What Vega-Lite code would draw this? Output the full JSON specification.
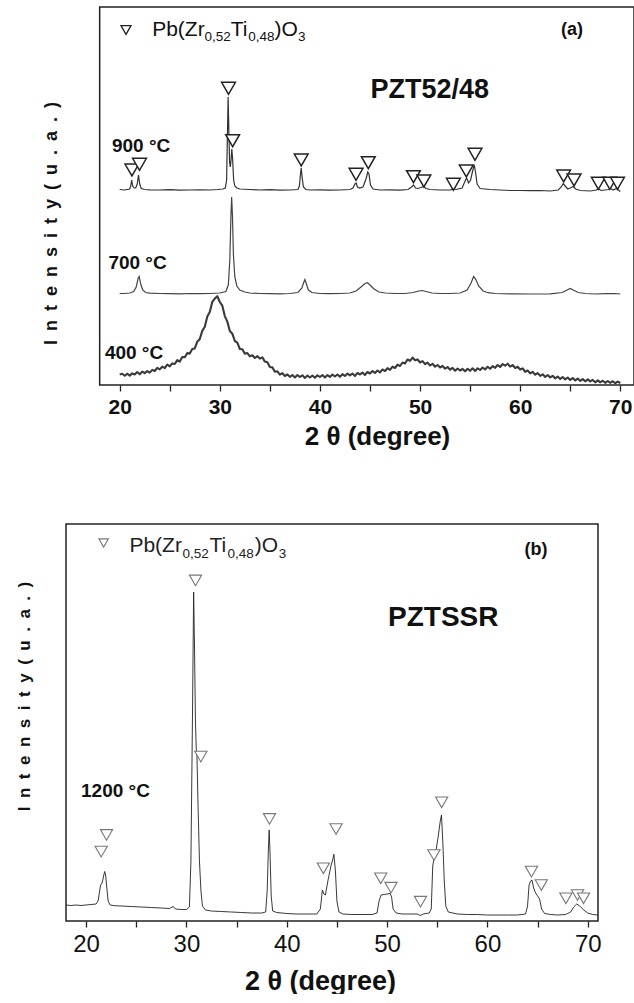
{
"$schema": "https://vega.github.io/schema/vega-lite/v6.json",
"background": "white",
"padding": {"left": 15, "top": 6, "right": 0, "bottom": 0},
"spacing": 74,
"config": {"font": "Liberation Sans", "view": {"stroke": null}},
"datasets": {
"a900": [{"x":20.0,"h":195.5},{"x":20.5,"h":195},{"x":21.0,"h":196},{"x":21.1,"h":199},{"x":21.2,"h":205},{"x":21.3,"h":199},{"x":21.45,"h":197},{"x":21.6,"h":197},{"x":21.75,"h":201},{"x":21.88,"h":210},{"x":22.0,"h":201},{"x":22.15,"h":196.5},{"x":22.5,"h":195.5},{"x":23,"h":195.2},{"x":24,"h":195},{"x":25,"h":195.3},{"x":26,"h":194.8},{"x":27,"h":195},{"x":28,"h":195.2},{"x":29,"h":195},{"x":29.8,"h":195.5},{"x":30.3,"h":196},{"x":30.55,"h":197},{"x":30.68,"h":205},{"x":30.76,"h":250},{"x":30.83,"h":288},{"x":30.9,"h":255},{"x":30.98,"h":222},{"x":31.05,"h":218},{"x":31.13,"h":226},{"x":31.2,"h":236},{"x":31.28,"h":226},{"x":31.38,"h":205},{"x":31.5,"h":199},{"x":31.7,"h":197},{"x":32,"h":196},{"x":33,"h":195.5},{"x":34,"h":195},{"x":35,"h":195.3},{"x":36,"h":194.8},{"x":37,"h":195},{"x":37.8,"h":195.5},{"x":37.95,"h":199},{"x":38.05,"h":210},{"x":38.13,"h":217},{"x":38.22,"h":208},{"x":38.35,"h":198},{"x":38.6,"h":195.5},{"x":39,"h":195},{"x":40,"h":195.2},{"x":41,"h":194.8},{"x":42,"h":195},{"x":43,"h":195.5},{"x":43.3,"h":197},{"x":43.5,"h":201},{"x":43.62,"h":202},{"x":43.75,"h":198},{"x":43.95,"h":197},{"x":44.3,"h":198},{"x":44.6,"h":206},{"x":44.78,"h":213},{"x":44.9,"h":211},{"x":45.05,"h":200},{"x":45.3,"h":196},{"x":46,"h":195},{"x":47,"h":195.2},{"x":48,"h":194.8},{"x":48.8,"h":195.5},{"x":49.15,"h":198},{"x":49.35,"h":200},{"x":49.55,"h":197},{"x":49.8,"h":196.5},{"x":50.1,"h":197.5},{"x":50.35,"h":198.5},{"x":50.6,"h":196.5},{"x":51,"h":195.5},{"x":52,"h":195},{"x":53,"h":195},{"x":53.3,"h":196},{"x":53.6,"h":195.5},{"x":54.2,"h":197},{"x":54.5,"h":204},{"x":54.65,"h":207},{"x":54.85,"h":202},{"x":55.05,"h":205},{"x":55.25,"h":214},{"x":55.42,"h":220},{"x":55.55,"h":212},{"x":55.7,"h":201},{"x":56,"h":196.5},{"x":57,"h":195.5},{"x":58,"h":195},{"x":59,"h":194.5},{"x":60,"h":194.5},{"x":61,"h":194.3},{"x":62,"h":194.5},{"x":63,"h":194},{"x":63.8,"h":195},{"x":64.1,"h":198},{"x":64.3,"h":201.5},{"x":64.5,"h":199},{"x":64.75,"h":196},{"x":65.1,"h":197.5},{"x":65.3,"h":198.5},{"x":65.55,"h":196},{"x":66,"h":194.5},{"x":67,"h":194},{"x":67.6,"h":195},{"x":67.8,"h":196},{"x":68.1,"h":194.5},{"x":68.8,"h":195.5},{"x":69.0,"h":196.5},{"x":69.3,"h":195},{"x":69.6,"h":196.5},{"x":69.75,"h":195.5},{"x":70.0,"h":193.5}],
"a700": [{"x":20.0,"h":91.5},{"x":20.5,"h":91.5},{"x":21.0,"h":92},{"x":21.4,"h":93.5},{"x":21.65,"h":98},{"x":21.85,"h":107},{"x":21.95,"h":108.5},{"x":22.1,"h":101},{"x":22.3,"h":95},{"x":22.6,"h":92.5},{"x":23,"h":91.8},{"x":24,"h":91.5},{"x":25,"h":91.3},{"x":26,"h":91.2},{"x":27,"h":91.5},{"x":28,"h":91.3},{"x":29,"h":91.5},{"x":30,"h":92},{"x":30.6,"h":93.5},{"x":30.85,"h":100},{"x":31.0,"h":125},{"x":31.1,"h":165},{"x":31.18,"h":188},{"x":31.26,"h":170},{"x":31.36,"h":130},{"x":31.5,"h":108},{"x":31.7,"h":99},{"x":32,"h":95},{"x":32.5,"h":93},{"x":33,"h":92},{"x":34,"h":91.5},{"x":35,"h":91.3},{"x":36,"h":91.2},{"x":37,"h":91.5},{"x":37.8,"h":92.5},{"x":38.2,"h":97},{"x":38.4,"h":103},{"x":38.5,"h":105.5},{"x":38.65,"h":101},{"x":38.85,"h":95},{"x":39.2,"h":92.5},{"x":40,"h":91.5},{"x":41,"h":91.3},{"x":42,"h":91.5},{"x":43,"h":92},{"x":43.6,"h":94},{"x":44.1,"h":98},{"x":44.5,"h":101.5},{"x":44.75,"h":102.3},{"x":45.0,"h":100},{"x":45.4,"h":96},{"x":45.9,"h":93},{"x":46.5,"h":92},{"x":47.5,"h":91.5},{"x":48.5,"h":91.5},{"x":49.3,"h":92.5},{"x":49.9,"h":94},{"x":50.2,"h":94.5},{"x":50.6,"h":93.5},{"x":51.2,"h":92},{"x":52,"h":91.5},{"x":53,"h":91.5},{"x":54,"h":92},{"x":54.7,"h":95},{"x":55.1,"h":102},{"x":55.35,"h":108.5},{"x":55.55,"h":106},{"x":55.85,"h":99},{"x":56.3,"h":94},{"x":56.8,"h":92.3},{"x":57.5,"h":91.5},{"x":59,"h":91.2},{"x":61,"h":91},{"x":63,"h":91.2},{"x":64.2,"h":92.5},{"x":64.7,"h":95},{"x":65.0,"h":96.5},{"x":65.3,"h":95},{"x":65.8,"h":92.5},{"x":66.5,"h":91.5},{"x":67.5,"h":91},{"x":68.5,"h":91.3},{"x":69.5,"h":91.5},{"x":70.0,"h":91}],
"a400": [{"x":20.0,"h":10.5},{"x":20.25,"h":11.2},{"x":20.5,"h":9.2},{"x":20.75,"h":11.3},{"x":21.0,"h":9.4},{"x":21.25,"h":11.6},{"x":21.5,"h":10.6},{"x":21.75,"h":13.0},{"x":22.0,"h":10.7},{"x":22.25,"h":13.4},{"x":22.5,"h":11.9},{"x":22.75,"h":13.9},{"x":23.0,"h":12.4},{"x":23.25,"h":15.1},{"x":23.5,"h":14.0},{"x":23.75,"h":17.2},{"x":24.0,"h":15.6},{"x":24.25,"h":18.3},{"x":24.5,"h":16.9},{"x":24.75,"h":20.5},{"x":25.0,"h":18.7},{"x":25.25,"h":21.6},{"x":25.5,"h":21.0},{"x":25.75,"h":24.9},{"x":26.0,"h":23.4},{"x":26.25,"h":27.9},{"x":26.5,"h":27.7},{"x":26.75,"h":31.9},{"x":27.0,"h":31.4},{"x":27.25,"h":36.0},{"x":27.5,"h":36.6},{"x":27.75,"h":43.3},{"x":28.0,"h":46.0},{"x":28.25,"h":54.1},{"x":28.5,"h":58.2},{"x":28.75,"h":68.4},{"x":29.0,"h":73.0},{"x":29.25,"h":83.2},{"x":29.5,"h":86.4},{"x":29.75,"h":88.8},{"x":30.0,"h":83.0},{"x":30.25,"h":79.3},{"x":30.5,"h":68.9},{"x":30.75,"h":63.4},{"x":31.0,"h":54.0},{"x":31.25,"h":51.3},{"x":31.5,"h":44.0},{"x":31.75,"h":42.4},{"x":32.0,"h":36.0},{"x":32.25,"h":35.7},{"x":32.5,"h":31.2},{"x":32.75,"h":32.0},{"x":33.0,"h":28.6},{"x":33.25,"h":29.7},{"x":33.5,"h":27.0},{"x":33.75,"h":28.8},{"x":34.0,"h":26.4},{"x":34.25,"h":27.6},{"x":34.5,"h":23.4},{"x":34.75,"h":22.7},{"x":35.0,"h":18.0},{"x":35.25,"h":17.6},{"x":35.5,"h":13.3},{"x":35.75,"h":13.7},{"x":36.0,"h":10.4},{"x":36.25,"h":11.8},{"x":36.5,"h":9.0},{"x":36.75,"h":10.6},{"x":37.0,"h":8.2},{"x":37.25,"h":10.0},{"x":37.5,"h":7.6},{"x":37.75,"h":9.9},{"x":38.0,"h":8.0},{"x":38.25,"h":9.7},{"x":38.5,"h":7.1},{"x":38.75,"h":9.4},{"x":39.0,"h":7.5},{"x":39.25,"h":9.5},{"x":39.5,"h":7.2},{"x":39.75,"h":9.7},{"x":40.0,"h":8.0},{"x":40.25,"h":9.9},{"x":40.5,"h":7.6},{"x":40.75,"h":9.9},{"x":41.0,"h":8.1},{"x":41.25,"h":10.4},{"x":41.5,"h":8.5},{"x":41.75,"h":10.5},{"x":42.0,"h":8.2},{"x":42.25,"h":10.8},{"x":42.5,"h":9.0},{"x":42.75,"h":11.4},{"x":43.0,"h":9.6},{"x":43.25,"h":11.5},{"x":43.5,"h":9.1},{"x":43.75,"h":12.0},{"x":44.0,"h":10.5},{"x":44.25,"h":12.5},{"x":44.5,"h":10.1},{"x":44.75,"h":13.0},{"x":45.0,"h":11.5},{"x":45.25,"h":14.0},{"x":45.5,"h":12.1},{"x":45.75,"h":14.5},{"x":46.0,"h":12.6},{"x":46.25,"h":15.5},{"x":46.5,"h":14.0},{"x":46.75,"h":16.8},{"x":47.0,"h":15.1},{"x":47.25,"h":18.3},{"x":47.5,"h":17.0},{"x":47.75,"h":20.3},{"x":48.0,"h":19.0},{"x":48.25,"h":22.5},{"x":48.5,"h":21.6},{"x":48.75,"h":25.5},{"x":49.0,"h":24.2},{"x":49.25,"h":27.4},{"x":49.5,"h":24.8},{"x":49.75,"h":25.6},{"x":50.0,"h":22.5},{"x":50.25,"h":23.9},{"x":50.5,"h":20.8},{"x":50.75,"h":22.4},{"x":51.0,"h":19.5},{"x":51.25,"h":21.2},{"x":51.5,"h":18.3},{"x":51.75,"h":20.0},{"x":52.0,"h":17.5},{"x":52.25,"h":19.1},{"x":52.5,"h":16.3},{"x":52.75,"h":17.9},{"x":53.0,"h":15.3},{"x":53.25,"h":17.1},{"x":53.5,"h":14.3},{"x":53.75,"h":16.5},{"x":54.0,"h":14.5},{"x":54.25,"h":16.1},{"x":54.5,"h":13.7},{"x":54.75,"h":16.2},{"x":55.0,"h":14.2},{"x":55.25,"h":16.7},{"x":55.5,"h":14.1},{"x":55.75,"h":16.7},{"x":56.0,"h":15.0},{"x":56.25,"h":17.5},{"x":56.5,"h":15.6},{"x":56.75,"h":18.2},{"x":57.0,"h":16.2},{"x":57.25,"h":18.9},{"x":57.5,"h":17.2},{"x":57.75,"h":20.0},{"x":58.0,"h":18.0},{"x":58.25,"h":21.0},{"x":58.5,"h":19.3},{"x":58.75,"h":21.3},{"x":59.0,"h":18.3},{"x":59.25,"h":20.0},{"x":59.5,"h":16.9},{"x":59.75,"h":18.3},{"x":60.0,"h":15.5},{"x":60.25,"h":16.6},{"x":60.5,"h":13.2},{"x":60.75,"h":14.5},{"x":61.0,"h":11.6},{"x":61.25,"h":13.1},{"x":61.5,"h":10.3},{"x":61.75,"h":11.9},{"x":62.0,"h":9.1},{"x":62.25,"h":10.7},{"x":62.5,"h":8.0},{"x":62.75,"h":10.0},{"x":63.0,"h":7.6},{"x":63.25,"h":9.2},{"x":63.5,"h":6.6},{"x":63.75,"h":8.5},{"x":64.0,"h":6.1},{"x":64.25,"h":8.0},{"x":64.5,"h":5.6},{"x":64.75,"h":7.5},{"x":65.0,"h":5.1},{"x":65.25,"h":7.0},{"x":65.5,"h":4.6},{"x":65.75,"h":6.4},{"x":66.0,"h":4.1},{"x":66.25,"h":5.9},{"x":66.5,"h":3.7},{"x":66.75,"h":5.6},{"x":67.0,"h":3.6},{"x":67.25,"h":5.1},{"x":67.5,"h":2.7},{"x":67.75,"h":4.6},{"x":68.0,"h":2.7},{"x":68.25,"h":4.3},{"x":68.5,"h":2.2},{"x":68.75,"h":4.0},{"x":69.0,"h":2.2},{"x":69.25,"h":3.8},{"x":69.5,"h":1.8},{"x":69.75,"h":3.4},{"x":70.0,"h":2.0}],
"am": [{"x":21.22,"h":215},{"x":21.98,"h":220.7},{"x":30.87,"h":296.7},{"x":31.28,"h":244.3},{"x":38.13,"h":225},{"x":43.61,"h":210.7},{"x":44.83,"h":222.3},{"x":49.34,"h":208.3},{"x":50.38,"h":204},{"x":53.33,"h":200.7},{"x":54.62,"h":214},{"x":55.49,"h":230.7},{"x":64.34,"h":209},{"x":65.38,"h":205},{"x":67.81,"h":201.7},{"x":68.96,"h":201.7},{"x":69.72,"h":201.7}],
"b": [{"x":18.0,"h":16},{"x":18.5,"h":15.5},{"x":19.0,"h":16},{"x":19.5,"h":15.5},{"x":20.0,"h":16},{"x":20.5,"h":16.5},{"x":21.0,"h":17},{"x":21.2,"h":20},{"x":21.35,"h":30},{"x":21.45,"h":36},{"x":21.6,"h":38},{"x":21.75,"h":45},{"x":21.85,"h":49.5},{"x":21.95,"h":46},{"x":22.05,"h":35},{"x":22.2,"h":20},{"x":22.4,"h":16},{"x":22.8,"h":15.3},{"x":23.5,"h":15},{"x":24.5,"h":14.5},{"x":25.5,"h":14},{"x":26.5,"h":13.5},{"x":27.5,"h":13},{"x":28.3,"h":12.5},{"x":28.7,"h":14.5},{"x":28.9,"h":12},{"x":29.5,"h":11.5},{"x":30.0,"h":11.5},{"x":30.3,"h":14},{"x":30.45,"h":60},{"x":30.6,"h":200},{"x":30.72,"h":329},{"x":30.8,"h":280},{"x":30.9,"h":200},{"x":30.98,"h":172},{"x":31.05,"h":165},{"x":31.15,"h":120},{"x":31.3,"h":60},{"x":31.45,"h":30},{"x":31.6,"h":15},{"x":31.9,"h":11},{"x":32.5,"h":10},{"x":33.5,"h":9.5},{"x":34.5,"h":9},{"x":35.5,"h":8.5},{"x":36.5,"h":8},{"x":37.5,"h":8},{"x":37.9,"h":9},{"x":38.05,"h":30},{"x":38.18,"h":75},{"x":38.25,"h":91},{"x":38.33,"h":70},{"x":38.45,"h":25},{"x":38.6,"h":10},{"x":39,"h":8.5},{"x":40,"h":7.5},{"x":41,"h":7},{"x":42,"h":7},{"x":43,"h":7},{"x":43.35,"h":12},{"x":43.55,"h":31},{"x":43.7,"h":27},{"x":43.85,"h":26},{"x":44.1,"h":40},{"x":44.4,"h":55},{"x":44.55,"h":60},{"x":44.7,"h":66.7},{"x":44.85,"h":50},{"x":45.0,"h":20},{"x":45.2,"h":9},{"x":45.6,"h":7},{"x":46.5,"h":6.5},{"x":47.5,"h":6.5},{"x":48.5,"h":6.5},{"x":49.0,"h":8},{"x":49.2,"h":20},{"x":49.4,"h":26},{"x":49.7,"h":26.5},{"x":50.0,"h":27},{"x":50.3,"h":27.7},{"x":50.45,"h":24},{"x":50.6,"h":12},{"x":50.9,"h":8},{"x":51.5,"h":7},{"x":52.5,"h":7},{"x":53.0,"h":7},{"x":53.3,"h":5.5},{"x":53.6,"h":7},{"x":54.2,"h":8},{"x":54.4,"h":12},{"x":54.55,"h":55},{"x":54.7,"h":64},{"x":54.9,"h":72},{"x":55.1,"h":85},{"x":55.3,"h":100},{"x":55.42,"h":106},{"x":55.55,"h":80},{"x":55.7,"h":40},{"x":55.85,"h":15},{"x":56.1,"h":9},{"x":57,"h":7},{"x":58,"h":6.5},{"x":59,"h":6.5},{"x":60,"h":6},{"x":61,"h":6},{"x":62,"h":6},{"x":63,"h":6},{"x":63.8,"h":7},{"x":64.0,"h":15},{"x":64.15,"h":36},{"x":64.3,"h":40},{"x":64.45,"h":41},{"x":64.6,"h":33},{"x":64.8,"h":28},{"x":65.0,"h":25},{"x":65.2,"h":22},{"x":65.4,"h":12},{"x":65.7,"h":7.5},{"x":66.3,"h":6.5},{"x":67,"h":6},{"x":67.8,"h":6.5},{"x":68.3,"h":9},{"x":68.6,"h":14},{"x":68.9,"h":17},{"x":69.2,"h":15},{"x":69.6,"h":11},{"x":70.0,"h":8},{"x":70.5,"h":6.5},{"x":71.0,"h":6}],
"bm": [{"x":21.51,"h":69.4},{"x":22.04,"h":86.1},{"x":30.91,"h":340.6},{"x":31.44,"h":164.4},{"x":38.28,"h":102.1},{"x":43.65,"h":52.7},{"x":44.91,"h":92.0},{"x":49.37,"h":42.7},{"x":50.39,"h":33.3},{"x":53.33,"h":19.3},{"x":54.67,"h":66.0},{"x":55.44,"h":118.7},{"x":64.39,"h":49.4},{"x":65.37,"h":36.0},{"x":67.82,"h":22.7},{"x":68.98,"h":26.0},{"x":69.58,"h":22.7}]
},
"vconcat": [
{
"width": 568, "height": 378,
"layer": [
{"data": {"values": [{}]},
 "mark": {"type": "rect", "filled": false, "stroke": "#222", "strokeWidth": 1.5},
 "encoding": {
  "x": {"datum": 18, "type": "quantitative", "scale": {"domain": [14.637, 71.37], "nice": false, "zero": false},
        "axis": {"values": [20,25,30,35,40,45,50,55,60,65,70], "labelExpr": "datum.value % 10 === 0 ? datum.label : ''", "domain": false, "grid": false, "tickSize": 6, "tickWidth": 1.3, "tickColor": "#222", "labelFontSize": 21, "labelFontWeight": "bold", "labelColor": "#111", "labelPadding": 5, "title": "2 θ (degree)", "titleFontSize": 26, "titleFontWeight": "bold", "titleColor": "#111", "titlePadding": 6, "titleX": 311}},
  "x2": {"datum": 71.37},
  "y": {"datum": 0, "type": "quantitative", "scale": {"domain": [0, 378], "nice": false, "zero": false},
        "axis": {"title": "I\u2002n\u2002t\u2002e\u2002n\u2002s\u2002i\u2002t\u2002y\u2002(\u2002u\u2002.\u2002a\u2002.\u2002)", "labels": false, "ticks": false, "domain": false, "grid": false, "titleFontSize": 18, "titleFontWeight": "bold", "titleColor": "#111", "titlePadding": 6, "titleY": 216}},
  "y2": {"datum": 378}
 }},
{"data": {"name": "a900"}, "mark": {"type": "line", "stroke": "#333", "strokeWidth": 1.2}, "encoding": {"x": {"field": "x", "type": "quantitative"}, "y": {"field": "h", "type": "quantitative"}}},
{"data": {"name": "a700"}, "mark": {"type": "line", "stroke": "#444", "strokeWidth": 1.2}, "encoding": {"x": {"field": "x", "type": "quantitative"}, "y": {"field": "h", "type": "quantitative"}}},
{"data": {"name": "a400"}, "mark": {"type": "line", "stroke": "#3a3a3a", "strokeWidth": 2.1, "strokeJoin": "round"}, "encoding": {"x": {"field": "x", "type": "quantitative"}, "y": {"field": "h", "type": "quantitative"}}},
{"data": {"name": "am"}, "mark": {"type": "point", "shape": "triangle-down", "filled": true, "fill": "white", "stroke": "#222", "strokeWidth": 1.5, "size": 190, "opacity": 1}, "encoding": {"x": {"field": "x", "type": "quantitative"}, "y": {"field": "h", "type": "quantitative"}}},
{"data": {"values": [{}]}, "mark": {"type": "point", "shape": "triangle-down", "filled": true, "fill": "white", "stroke": "#222", "strokeWidth": 1.3, "size": 100, "opacity": 1}, "encoding": {"x": {"datum": 20.63}, "y": {"datum": 355}}},
{"data": {"values": [{}]}, "mark": {"type": "text", "text": "Pb(Zr", "align": "left", "baseline": "alphabetic", "fontSize": 21, "color": "#111"}, "encoding": {"x": {"datum": 23.24}, "y": {"datum": 349}}},
{"data": {"values": [{}]}, "mark": {"type": "text", "text": "0,52", "align": "left", "baseline": "alphabetic", "fontSize": 13.5, "color": "#111"}, "encoding": {"x": {"datum": 28.47}, "y": {"datum": 344}}},
{"data": {"values": [{}]}, "mark": {"type": "text", "text": "Ti", "align": "left", "baseline": "alphabetic", "fontSize": 21, "color": "#111"}, "encoding": {"x": {"datum": 31.10}, "y": {"datum": 349}}},
{"data": {"values": [{}]}, "mark": {"type": "text", "text": "0,48", "align": "left", "baseline": "alphabetic", "fontSize": 13.5, "color": "#111"}, "encoding": {"x": {"datum": 32.84}, "y": {"datum": 344}}},
{"data": {"values": [{}]}, "mark": {"type": "text", "text": ")O", "align": "left", "baseline": "alphabetic", "fontSize": 21, "color": "#111"}, "encoding": {"x": {"datum": 35.47}, "y": {"datum": 349}}},
{"data": {"values": [{}]}, "mark": {"type": "text", "text": "3", "align": "left", "baseline": "alphabetic", "fontSize": 13.5, "color": "#111"}, "encoding": {"x": {"datum": 37.80}, "y": {"datum": 344}}},
{"data": {"values": [{}]}, "mark": {"type": "text", "text": "(a)", "align": "center", "baseline": "middle", "fontSize": 18, "fontWeight": "bold", "color": "#111"}, "encoding": {"x": {"datum": 65.18}, "y": {"datum": 355}}},
{"data": {"values": [{}]}, "mark": {"type": "text", "text": "PZT52/48", "align": "center", "baseline": "alphabetic", "fontSize": 27, "fontWeight": "bold", "color": "#111"}, "encoding": {"x": {"datum": 50.98}, "y": {"datum": 286.7}}},
{"data": {"values": [{}]}, "mark": {"type": "text", "text": "900 °C", "align": "left", "baseline": "alphabetic", "fontSize": 19, "fontWeight": "bold", "color": "#111"}, "encoding": {"x": {"datum": 19.23}, "y": {"datum": 233.3}}},
{"data": {"values": [{}]}, "mark": {"type": "text", "text": "700 °C", "align": "left", "baseline": "alphabetic", "fontSize": 19, "fontWeight": "bold", "color": "#111"}, "encoding": {"x": {"datum": 18.87}, "y": {"datum": 115.7}}},
{"data": {"values": [{}]}, "mark": {"type": "text", "text": "400 °C", "align": "left", "baseline": "alphabetic", "fontSize": 19, "fontWeight": "bold", "color": "#111"}, "encoding": {"x": {"datum": 18.52}, "y": {"datum": 25.7}}}
]
},
{
"width": 532, "height": 397,
"layer": [
{"data": {"values": [{}]},
 "mark": {"type": "rect", "filled": false, "stroke": "#222", "strokeWidth": 1.5},
 "encoding": {
  "x": {"datum": 18, "type": "quantitative", "scale": {"domain": [18, 71.02], "nice": false, "zero": false},
        "axis": {"values": [20,25,30,35,40,45,50,55,60,65,70], "labelExpr": "datum.value % 10 === 0 ? datum.label : ''", "domain": false, "grid": false, "tickSize": 6, "tickWidth": 1.3, "tickColor": "#222", "labelFontSize": 24, "labelColor": "#111", "labelPadding": 5, "title": "2 θ (degree)", "titleFontSize": 27, "titleFontWeight": "bold", "titleColor": "#111", "titlePadding": 12, "titleX": 254}},
  "x2": {"datum": 71.02},
  "y": {"datum": 0, "type": "quantitative", "scale": {"domain": [0, 397], "nice": false, "zero": false},
        "axis": {"title": "I\u2002n\u2002t\u2002e\u2002n\u2002s\u2002i\u2002t\u2002y\u2002(\u2002u\u2002.\u2002a\u2002.\u2002)", "labels": false, "ticks": false, "domain": false, "grid": false, "titleFontSize": 17, "titleFontWeight": "bold", "titleColor": "#111", "titlePadding": 33, "titleY": 172}},
  "y2": {"datum": 397}
 }},
{"data": {"name": "b"}, "mark": {"type": "line", "stroke": "#222", "strokeWidth": 0.9}, "encoding": {"x": {"field": "x", "type": "quantitative"}, "y": {"field": "h", "type": "quantitative"}}},
{"data": {"name": "bm"}, "mark": {"type": "point", "shape": "triangle-down", "filled": true, "fill": "white", "stroke": "#777", "strokeWidth": 1.1, "size": 150, "opacity": 1}, "encoding": {"x": {"field": "x", "type": "quantitative"}, "y": {"field": "h", "type": "quantitative"}}},
{"data": {"values": [{}]}, "mark": {"type": "point", "shape": "triangle-down", "filled": true, "fill": "white", "stroke": "#777", "strokeWidth": 1.1, "size": 90, "opacity": 1}, "encoding": {"x": {"datum": 21.75}, "y": {"datum": 378}}},
{"data": {"values": [{}]}, "mark": {"type": "text", "text": "Pb(Zr", "align": "left", "baseline": "alphabetic", "fontSize": 21, "color": "#222"}, "encoding": {"x": {"datum": 24.32}, "y": {"datum": 369}}},
{"data": {"values": [{}]}, "mark": {"type": "text", "text": "0,52", "align": "left", "baseline": "alphabetic", "fontSize": 13.5, "color": "#222"}, "encoding": {"x": {"datum": 29.6}, "y": {"datum": 363}}},
{"data": {"values": [{}]}, "mark": {"type": "text", "text": "Ti", "align": "left", "baseline": "alphabetic", "fontSize": 21, "color": "#222"}, "encoding": {"x": {"datum": 32.3}, "y": {"datum": 369}}},
{"data": {"values": [{}]}, "mark": {"type": "text", "text": "0,48", "align": "left", "baseline": "alphabetic", "fontSize": 13.5, "color": "#222"}, "encoding": {"x": {"datum": 34.1}, "y": {"datum": 363}}},
{"data": {"values": [{}]}, "mark": {"type": "text", "text": ")O", "align": "left", "baseline": "alphabetic", "fontSize": 21, "color": "#222"}, "encoding": {"x": {"datum": 36.8}, "y": {"datum": 369}}},
{"data": {"values": [{}]}, "mark": {"type": "text", "text": "3", "align": "left", "baseline": "alphabetic", "fontSize": 13.5, "color": "#222"}, "encoding": {"x": {"datum": 39.2}, "y": {"datum": 363}}},
{"data": {"values": [{}]}, "mark": {"type": "text", "text": "(b)", "align": "center", "baseline": "middle", "fontSize": 18, "fontWeight": "bold", "color": "#111"}, "encoding": {"x": {"datum": 64.84}, "y": {"datum": 371.3}}},
{"data": {"values": [{}]}, "mark": {"type": "text", "text": "PZTSSR", "align": "center", "baseline": "alphabetic", "fontSize": 28, "fontWeight": "bold", "color": "#111"}, "encoding": {"x": {"datum": 55.6}, "y": {"datum": 295.5}}},
{"data": {"values": [{}]}, "mark": {"type": "text", "text": "1200 °C", "align": "left", "baseline": "alphabetic", "fontSize": 19, "fontWeight": "bold", "color": "#111"}, "encoding": {"x": {"datum": 19.5}, "y": {"datum": 124.4}}}
]
}
]
}
